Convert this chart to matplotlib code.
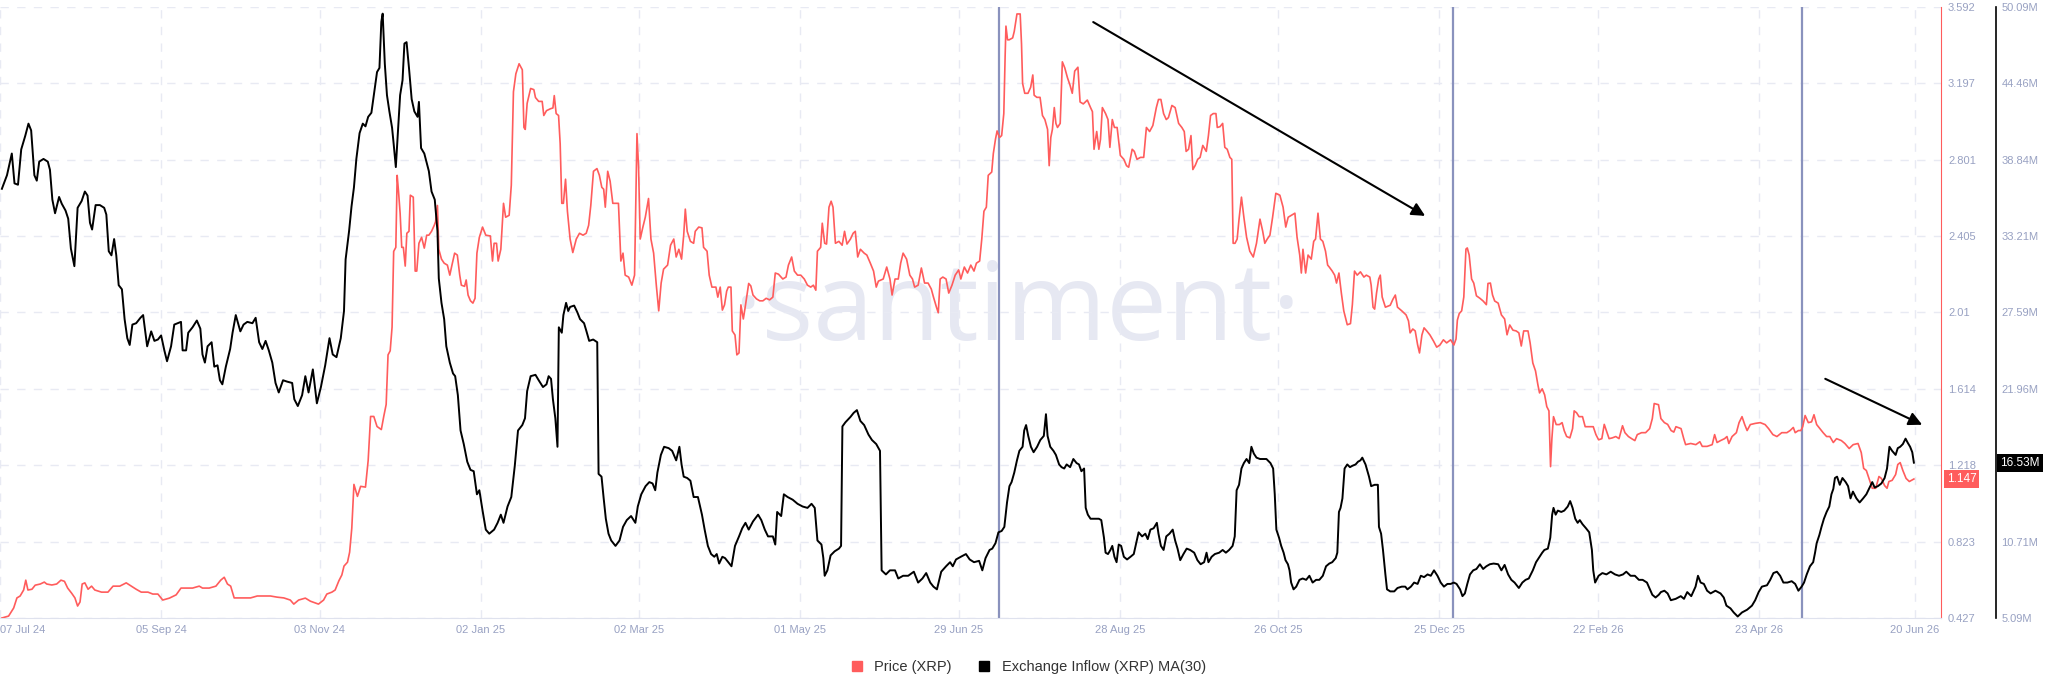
import numpy as np
import matplotlib
matplotlib.use('Agg')
import matplotlib.pyplot as plt
from matplotlib.lines import Line2D

plt.rcParams['font.family'] = ['Liberation Sans', 'DejaVu Sans']

START = np.datetime64('2024-07-07T00:00')

# XRP price (USD), day offset from 07 Jul 24
price_days = [
    0.7, 3.2, 5.1, 6.3, 7.5, 8.8, 9.6, 10.4, 11.9, 13.1, 15.0, 16.5, 17.4, 19.3, 21.1, 22.7, 24.0, 25.2, 26.7, 27.9,
    28.9, 29.8, 30.6, 31.6, 32.8, 34.1, 35.3, 37.8, 40.2, 42.1, 44.6, 47.0, 48.9, 50.7, 52.6, 55.1, 56.9, 58.8, 60.6, 63.1,
    65.6, 67.4, 69.3, 71.7, 74.2, 75.4, 77.9, 80.4, 82.2, 83.5, 84.7, 85.9, 87.2, 88.6, 90.9, 93.3, 95.8, 98.3, 100.7, 103.2,
    105.7, 108.1, 109.4, 111.2, 113.7, 115.6, 118.6, 120.5, 121.7, 123.6, 124.8, 126.2, 127.3, 128.1, 129.4, 130.2, 131.0, 131.8, 133.1, 134.3,
    136.1, 137.1, 138.0, 139.2, 140.4, 142.0, 142.9, 143.8, 144.5, 145.3, 146.0, 146.6, 147.4, 147.9, 148.4, 149.0, 149.6, 150.2, 150.9, 151.5,
    152.3, 152.8, 153.9, 154.6, 155.2, 156.0, 157.0, 158.0, 158.9, 159.7, 160.7, 161.7, 162.2, 162.9, 163.4, 164.4, 165.4, 166.6, 167.5, 168.3,
    169.3, 170.3, 171.2, 171.8, 173.0, 173.6, 174.3, 175.2, 176.1, 176.9, 177.6, 178.5, 179.7, 180.9, 182.6, 183.4, 184.0, 184.9, 185.5, 186.5,
    187.5, 188.3, 189.6, 190.4, 191.2, 192.1, 193.3, 194.5, 195.1, 195.6, 196.3, 197.6, 198.8, 199.4, 200.6, 201.9, 202.5, 203.5, 205.0, 205.9,
    206.4, 207.1, 208.0, 208.6, 209.2, 209.8, 210.6, 211.3, 212.3, 213.3, 214.6, 215.8, 217.1, 218.3, 219.2, 220.0, 221.0, 222.3, 223.2, 224.1,
    224.8, 225.4, 226.3, 227.2, 228.2, 230.3, 231.2, 232.0, 232.8, 234.1, 235.3, 236.3, 237.2, 237.8, 238.4, 239.4, 240.3, 241.5, 242.4, 243.4,
    244.4, 245.3, 246.2, 247.1, 248.6, 249.7, 250.9, 251.8, 252.8, 253.8, 254.6, 255.2, 255.9, 257.1, 258.3, 258.9, 260.2, 261.4, 262.0, 263.3,
    264.1, 265.1, 266.6, 267.3, 268.2, 269.0, 269.8, 270.6, 271.2, 272.2, 272.7, 273.7, 274.4, 275.2, 275.9, 276.8, 277.4, 278.8, 279.6, 280.4,
    281.7, 282.9, 284.1, 285.3, 286.6, 287.8, 288.7, 289.9, 291.5, 292.7, 293.6, 294.8, 295.8, 297.0, 298.2, 299.5, 300.7, 301.9, 302.9, 303.8,
    304.4, 305.6, 306.2, 307.1, 307.8, 308.7, 309.5, 310.2, 311.1, 312.4, 313.6, 314.5, 315.4, 316.7, 317.7, 318.5, 319.4, 320.4, 321.8, 322.8,
    324.1, 325.3, 326.3, 327.1, 328.9, 330.2, 331.4, 332.2, 333.3, 334.5, 335.4, 336.3, 337.6, 338.8, 339.8, 340.6, 341.9, 343.1, 344.3, 345.6,
    346.8, 347.6, 348.7, 349.4, 350.1, 351.1, 352.3, 353.3, 354.5, 355.7, 357.0, 357.8, 359.1, 360.3, 361.5, 362.7, 363.6, 364.8, 365.6, 366.4,
    367.3, 368.0, 369.3, 369.9, 370.7, 371.3, 372.2, 373.0, 373.8, 374.3, 374.6, 375.2, 375.8, 377.1, 377.7, 378.7, 379.9, 380.4, 380.8, 381.6,
    382.8, 383.8, 384.6, 385.1, 386.1, 387.3, 388.2, 389.1, 390.1, 390.7, 391.3, 391.9, 392.6, 393.2, 393.8, 394.8, 395.6, 396.5, 397.5, 398.5,
    399.3, 400.2, 401.4, 402.2, 403.4, 404.9, 406.1, 406.8, 407.4, 408.4, 409.2, 409.8, 410.5, 411.7, 412.6, 413.3, 414.2, 415.0, 416.0, 417.2,
    418.5, 419.5, 420.3, 421.6, 422.4, 423.4, 424.7, 425.9, 426.9, 428.1, 429.3, 430.6, 431.4, 432.3, 433.3, 434.3, 435.1, 436.4, 437.6, 438.9,
    440.1, 441.0, 441.7, 442.6, 443.5, 444.2, 445.1, 446.0, 446.9, 447.9, 449.2, 450.0, 450.8, 451.8, 452.8, 453.3, 454.3, 455.3, 456.1, 457.0,
    458.0, 458.7, 459.2, 459.9, 460.7, 461.4, 462.3, 463.2, 464.2, 465.4, 466.7, 467.9, 469.2, 470.2, 471.0, 471.9, 472.9, 473.9, 475.1, 476.6,
    477.8, 478.8, 479.7, 480.9, 482.2, 483.0, 484.0, 484.6, 485.2, 486.2, 487.1, 488.3, 489.2, 489.9, 490.8, 491.7, 492.6, 493.6, 494.4, 495.0,
    496.1, 497.0, 497.7, 498.6, 499.5, 500.4, 501.7, 502.9, 503.6, 504.4, 505.4, 506.6, 507.9, 508.8, 510.1, 510.6, 511.3, 511.9, 512.6, 513.4,
    514.0, 514.7, 515.9, 517.7, 518.7, 519.6, 520.4, 522.0, 523.6, 524.5, 525.1, 526.1, 527.0, 527.9, 528.6, 529.5, 530.3, 531.3, 532.5, 533.8,
    535.0, 536.2, 537.5, 538.7, 540.2, 541.4, 542.2, 542.7, 543.4, 544.3, 545.1, 545.9, 546.4, 547.1, 548.0, 548.8, 549.8, 551.1, 552.3, 553.5,
    554.1, 555.0, 555.8, 556.6, 557.9, 559.1, 560.3, 561.2, 562.2, 563.4, 564.6, 565.6, 566.5, 567.4, 569.0, 569.8, 570.8, 571.8, 572.7, 573.3,
    574.3, 575.2, 576.0, 576.8, 577.4, 577.9, 578.5, 579.5, 580.7, 581.7, 582.5, 583.4, 584.6, 585.6, 586.2, 587.1, 588.0, 589.3, 590.3, 591.8,
    593.3, 594.3, 595.3, 596.5, 597.4, 598.2, 599.2, 600.4, 601.7, 602.9, 604.2, 605.1, 606.4, 607.6, 608.8, 609.7, 611.3, 612.8, 614.3, 615.3,
    616.0, 617.6, 618.5, 619.8, 621.0, 622.3, 623.3, 624.1, 626.0, 627.0, 627.7, 629.6, 631.5, 633.0, 633.9, 635.7, 637.6, 638.5, 639.4, 640.7,
    642.2, 643.1, 643.8, 645.0, 646.6, 647.6, 648.7, 649.7, 650.6, 651.8, 653.6, 655.5, 657.3, 658.6, 660.2, 661.7, 663.5, 665.4, 666.6, 667.8,
    668.5, 669.7, 670.6, 671.3, 672.2, 673.4, 674.6, 675.5, 676.5, 677.7, 678.9, 680.2, 681.4, 682.7, 683.9, 685.7, 687.0, 688.6, 690.1, 691.9,
    693.1, 694.0, 695.0, 696.2, 697.2, 698.5, 699.7, 700.6, 701.8, 702.7, 703.4, 704.6, 705.9, 706.7, 707.6, 708.6, 709.8, 711.0, 712.7,
]
price_vals = [
    0.427, 0.437, 0.479, 0.531, 0.541, 0.572, 0.623, 0.572, 0.576, 0.597, 0.603, 0.613, 0.603, 0.598, 0.603, 0.623, 0.617, 0.582, 0.555, 0.531,
    0.489, 0.510, 0.603, 0.609, 0.576, 0.592, 0.572, 0.561, 0.561, 0.592, 0.592, 0.609, 0.592, 0.576, 0.561, 0.561, 0.551, 0.551, 0.520, 0.530,
    0.547, 0.582, 0.582, 0.582, 0.592, 0.582, 0.582, 0.592, 0.623, 0.638, 0.603, 0.592, 0.531, 0.531, 0.531, 0.531, 0.541, 0.541, 0.541, 0.535,
    0.531, 0.520, 0.499, 0.520, 0.530, 0.514, 0.499, 0.520, 0.551, 0.561, 0.572, 0.620, 0.650, 0.696, 0.716, 0.768, 0.892, 1.119, 1.057, 1.109,
    1.105, 1.243, 1.471, 1.471, 1.419, 1.403, 1.471, 1.533, 1.790, 1.811, 1.934, 2.326, 2.347, 2.720, 2.637, 2.524, 2.347, 2.347, 2.250, 2.420,
    2.430, 2.617, 2.607, 2.224, 2.224, 2.368, 2.399, 2.343, 2.410, 2.410, 2.430, 2.461, 2.480, 2.564, 2.337, 2.286, 2.265, 2.255, 2.203, 2.255,
    2.317, 2.307, 2.203, 2.151, 2.145, 2.178, 2.100, 2.070, 2.058, 2.083, 2.317, 2.399, 2.452, 2.410, 2.406, 2.276, 2.368, 2.368, 2.276, 2.337,
    2.575, 2.503, 2.513, 2.669, 3.153, 3.246, 3.298, 3.267, 2.968, 2.958, 3.093, 3.170, 3.164, 3.123, 3.103, 3.103, 3.030, 3.055, 3.065, 3.069,
    3.133, 3.040, 3.030, 2.884, 2.575, 2.575, 2.700, 2.534, 2.390, 2.320, 2.390, 2.420, 2.410, 2.420, 2.461, 2.564, 2.741, 2.755, 2.720, 2.658,
    2.648, 2.555, 2.741, 2.690, 2.575, 2.575, 2.276, 2.317, 2.203, 2.193, 2.151, 2.203, 2.936, 2.758, 2.390, 2.452, 2.503, 2.600, 2.390, 2.317,
    2.151, 2.018, 2.162, 2.234, 2.255, 2.358, 2.390, 2.297, 2.337, 2.286, 2.410, 2.545, 2.430, 2.378, 2.368, 2.430, 2.452, 2.448, 2.347, 2.327,
    2.203, 2.141, 2.141, 2.089, 2.141, 2.022, 2.049, 2.120, 2.141, 2.141, 1.914, 1.893, 1.790, 1.800, 2.049, 1.976, 2.028, 2.160, 2.147, 2.100,
    2.080, 2.070, 2.070, 2.083, 2.075, 2.089, 2.214, 2.208, 2.183, 2.193, 2.255, 2.297, 2.224, 2.203, 2.203, 2.183, 2.151, 2.141, 2.151, 2.125,
    2.327, 2.347, 2.472, 2.368, 2.364, 2.555, 2.586, 2.555, 2.368, 2.378, 2.358, 2.430, 2.364, 2.390, 2.420, 2.430, 2.297, 2.337, 2.317, 2.307,
    2.265, 2.224, 2.141, 2.172, 2.183, 2.245, 2.183, 2.100, 2.183, 2.183, 2.265, 2.317, 2.286, 2.203, 2.183, 2.141, 2.151, 2.240, 2.162, 2.162,
    2.131, 2.090, 2.038, 2.008, 2.183, 2.193, 2.183, 2.110, 2.151, 2.203, 2.230, 2.183, 2.245, 2.214, 2.255, 2.224, 2.265, 2.276, 2.390, 2.534,
    2.555, 2.720, 2.737, 2.833, 2.907, 2.950, 2.916, 2.926, 3.040, 3.339, 3.493, 3.422, 3.422, 3.432, 3.466, 3.556, 3.556, 3.400, 3.196, 3.145,
    3.145, 3.176, 3.240, 3.135, 3.124, 3.124, 3.030, 3.009, 2.958, 2.770, 2.916, 2.958, 3.071, 2.989, 2.968, 2.989, 3.308, 3.277, 3.226, 3.185,
    3.145, 3.260, 3.280, 3.100, 3.090, 3.110, 3.071, 3.050, 2.855, 2.947, 2.855, 2.906, 3.071, 3.040, 3.009, 2.865, 3.009, 2.968, 2.968, 2.823,
    2.803, 2.770, 2.762, 2.855, 2.844, 2.803, 2.813, 2.813, 2.968, 2.947, 2.978, 3.071, 3.113, 3.113, 3.040, 3.009, 3.019, 3.082, 3.071, 2.989,
    2.968, 2.947, 2.844, 2.855, 2.926, 2.750, 2.772, 2.803, 2.813, 2.875, 2.844, 2.926, 3.030, 3.040, 3.040, 2.968, 2.972, 2.989, 2.865, 2.855,
    2.813, 2.803, 2.368, 2.368, 2.390, 2.493, 2.607, 2.503, 2.400, 2.327, 2.297, 2.368, 2.493, 2.431, 2.368, 2.390, 2.410, 2.503, 2.627, 2.617,
    2.555, 2.452, 2.503, 2.513, 2.524, 2.400, 2.307, 2.214, 2.337, 2.214, 2.307, 2.286, 2.378, 2.390, 2.524, 2.390, 2.378, 2.327, 2.255, 2.245,
    2.224, 2.203, 2.162, 2.214, 2.110, 2.018, 1.946, 1.952, 2.050, 2.224, 2.203, 2.220, 2.193, 2.203, 2.193, 2.151, 2.037, 2.027, 2.110, 2.183,
    2.203, 2.090, 2.037, 2.047, 2.078, 2.100, 2.037, 2.018, 1.997, 1.966, 1.904, 1.924, 1.914, 1.842, 1.800, 1.893, 1.930, 1.914, 1.893, 1.862,
    1.830, 1.841, 1.868, 1.852, 1.868, 1.841, 1.872, 1.970, 2.004, 2.018, 2.090, 2.338, 2.344, 2.307, 2.183, 2.162, 2.096, 2.083, 2.069, 2.050,
    2.160, 2.162, 2.100, 2.069, 2.058, 1.997, 1.976, 1.894, 1.945, 1.918, 1.914, 1.904, 1.836, 1.914, 1.914, 1.852, 1.748, 1.707, 1.634, 1.593,
    1.614, 1.583, 1.522, 1.500, 1.211, 1.356, 1.470, 1.429, 1.429, 1.439, 1.397, 1.367, 1.360, 1.408, 1.500, 1.490, 1.470, 1.470, 1.418, 1.418,
    1.418, 1.377, 1.350, 1.356, 1.430, 1.397, 1.356, 1.360, 1.367, 1.356, 1.423, 1.387, 1.367, 1.356, 1.346, 1.377, 1.387, 1.387, 1.408, 1.460,
    1.538, 1.532, 1.460, 1.439, 1.430, 1.398, 1.390, 1.418, 1.408, 1.356, 1.325, 1.331, 1.325, 1.340, 1.316, 1.316, 1.325, 1.377, 1.336, 1.346,
    1.356, 1.367, 1.331, 1.367, 1.387, 1.439, 1.470, 1.429, 1.398, 1.429, 1.435, 1.439, 1.429, 1.408, 1.377, 1.367, 1.387, 1.387, 1.398, 1.414,
    1.387, 1.398, 1.398, 1.418, 1.476, 1.439, 1.443, 1.480, 1.429, 1.408, 1.387, 1.367, 1.367, 1.336, 1.356, 1.346, 1.331, 1.305, 1.325, 1.331,
    1.284, 1.202, 1.191, 1.140, 1.099, 1.099, 1.160, 1.150, 1.113, 1.099, 1.134, 1.140, 1.170, 1.222, 1.232, 1.191, 1.150, 1.134, 1.147,
]

# Exchange inflow MA(30), millions of XRP
inflow_days = [
    0.7, 2.6, 4.4, 5.4, 6.7, 7.9, 9.4, 10.6, 11.6, 12.8, 13.7, 14.6, 16.2, 17.8, 18.6, 19.5, 20.5, 22.0, 23.0, 24.4,
    25.4, 26.4, 27.7, 28.9, 30.4, 31.6, 32.6, 33.5, 34.3, 35.6, 37.2, 38.8, 39.6, 40.5, 41.5, 42.5, 43.3, 44.2, 45.4, 46.4,
    47.4, 48.3, 49.3, 50.7, 52.3, 53.3, 54.8, 56.3, 57.5, 58.8, 60.0, 61.2, 62.2, 63.7, 64.9, 66.2, 67.4, 68.0, 69.3, 70.1,
    71.7, 73.3, 74.6, 75.4, 76.3, 77.3, 78.8, 79.8, 81.0, 81.9, 82.8, 84.1, 85.7, 86.6, 87.8, 89.5, 90.7, 92.1, 94.0, 95.2,
    96.5, 97.7, 98.9, 100.1, 101.4, 102.6, 103.8, 105.4, 106.9, 108.8, 109.6, 110.9, 112.5, 113.7, 114.9, 116.5, 118.0, 119.5, 121.1, 122.7,
    123.9, 125.3, 126.9, 128.1, 128.7, 130.0, 130.9, 131.8, 132.7, 133.9, 135.1, 136.1, 137.1, 138.3, 139.2, 140.4, 141.3, 142.0, 142.5, 143.3,
    144.1, 145.0, 146.0, 146.6, 147.4, 148.2, 149.0, 149.9, 150.6, 151.4, 152.3, 153.3, 154.3, 155.5, 156.0, 156.8, 158.0, 159.7, 160.7, 161.9,
    162.9, 163.4, 164.4, 165.4, 166.2, 167.5, 168.7, 169.5, 170.5, 171.5, 172.7, 174.0, 175.2, 176.4, 177.6, 178.5, 179.7, 180.9, 182.2, 184.0,
    185.3, 186.5, 187.5, 189.0, 190.4, 191.7, 192.9, 194.5, 195.5, 196.3, 197.6, 199.4, 200.6, 202.2, 203.5, 204.3, 205.2, 205.9, 206.8, 207.6,
    208.1, 209.2, 209.8, 210.8, 211.6, 212.3, 213.8, 215.0, 216.0, 217.5, 218.4, 219.4, 220.9, 222.4, 222.9, 224.0, 224.8, 225.6, 226.6, 227.6,
    229.2, 230.7, 232.0, 233.4, 235.0, 236.6, 237.5, 238.8, 240.4, 241.8, 243.0, 244.0, 244.8, 246.1, 247.3, 249.0, 250.3, 251.8, 253.0, 253.8,
    254.6, 255.9, 257.1, 258.3, 259.9, 261.4, 262.4, 263.6, 264.8, 266.0, 266.9, 267.8, 269.0, 270.0, 271.2, 272.4, 273.7, 275.2, 276.4, 277.6,
    278.8, 280.4, 282.3, 283.5, 284.8, 286.0, 287.8, 288.7, 289.4, 290.9, 291.9, 293.3, 295.2, 297.0, 298.9, 300.7, 302.2, 303.4, 304.4, 305.9,
    306.6, 307.1, 308.1, 309.3, 310.8, 312.4, 313.2, 313.7, 314.8, 316.7, 317.9, 319.1, 320.4, 321.8, 323.4, 324.7, 326.3, 327.7, 328.3, 329.9,
    331.4, 333.3, 334.5, 336.3, 338.2, 340.3, 341.9, 343.5, 344.9, 346.4, 347.6, 348.9, 350.5, 352.3, 353.8, 354.8, 356.0, 357.8, 359.7, 361.1,
    362.7, 364.6, 365.8, 367.0, 368.5, 369.5, 370.7, 371.8, 373.0, 374.0, 375.0, 375.9, 376.7, 377.7, 378.7, 379.6, 380.8, 381.4, 382.1, 382.9,
    383.9, 384.9, 386.2, 387.4, 388.7, 389.5, 390.1, 391.1, 392.3, 393.2, 394.4, 395.3, 396.3, 397.2, 398.5, 399.7, 400.9, 401.8, 402.7, 403.7,
    404.3, 405.1, 406.1, 407.6, 409.2, 410.1, 411.1, 411.7, 412.6, 413.5, 414.2, 415.0, 415.8, 416.6, 417.5, 418.5, 419.7, 421.0, 422.2, 423.2,
    424.0, 425.3, 426.5, 427.4, 428.4, 429.6, 430.8, 431.4, 432.3, 433.3, 434.3, 435.5, 436.7, 437.6, 438.5, 439.5, 440.7, 441.9, 443.2, 444.7,
    445.9, 447.1, 448.4, 449.3, 450.0, 451.2, 452.4, 454.0, 455.3, 456.5, 457.7, 459.0, 459.8, 460.5, 461.4, 462.3, 463.2, 464.2, 465.2, 466.0,
    466.9, 467.9, 469.2, 470.4, 471.6, 473.1, 474.1, 474.7, 475.3, 476.3, 477.1, 478.0, 478.7, 479.6, 480.2, 480.8, 481.7, 482.7, 483.9, 485.1,
    486.4, 487.6, 488.8, 490.1, 491.3, 492.6, 493.8, 495.0, 496.1, 497.4, 498.0, 498.6, 499.2, 499.9, 500.7, 501.7, 502.7, 503.6, 504.8, 505.7,
    506.6, 507.3, 508.5, 509.8, 510.6, 511.9, 513.1, 513.5, 514.3, 515.0, 515.9, 516.5, 517.7, 519.2, 520.4, 522.0, 523.3, 524.1, 525.4, 526.6,
    527.9, 529.1, 530.3, 531.6, 532.8, 534.0, 535.3, 536.5, 537.7, 539.0, 540.2, 541.4, 542.4, 543.7, 544.6, 545.5, 546.4, 547.4, 548.6, 549.8,
    551.1, 552.3, 553.5, 554.8, 556.2, 557.9, 559.1, 560.3, 561.6, 562.8, 564.0, 565.6, 566.9, 568.1, 569.3, 570.8, 572.0, 573.3, 574.3, 575.1,
    576.4, 577.3, 578.0, 578.5, 579.3, 580.1, 581.4, 582.5, 583.8, 584.7, 585.6, 586.6, 587.5, 588.3, 589.3, 590.6, 591.8, 592.8, 593.3, 594.0,
    595.3, 596.7, 598.2, 599.8, 601.4, 602.9, 604.4, 605.6, 607.2, 608.8, 610.3, 611.7, 613.3, 614.2, 615.3, 616.5, 617.7, 618.5, 619.8, 621.0,
    622.2, 624.0, 625.9, 627.1, 628.3, 629.8, 631.4, 632.3, 633.3, 634.5, 635.7, 637.0, 638.8, 640.7, 641.9, 642.9, 644.4, 645.6, 647.1, 648.7,
    650.6, 652.4, 653.6, 654.9, 656.1, 658.0, 659.2, 660.4, 661.7, 662.9, 664.1, 665.6, 667.2, 668.5, 669.7, 670.9, 671.8, 672.8, 674.0, 675.2,
    675.9, 676.5, 677.5, 678.3, 679.2, 680.2, 681.2, 682.0, 682.7, 683.3, 684.1, 685.1, 686.1, 687.3, 688.2, 689.1, 690.0, 691.3, 692.5, 693.8,
    695.0, 696.2, 697.2, 698.1, 699.3, 700.6, 701.8, 702.7, 703.6, 704.6, 705.9, 706.7, 707.6, 708.6, 709.6, 710.4, 711.3, 712.1, 712.7,
]
inflow_vals = [
    36.7, 37.7, 39.3, 37.1, 37.0, 39.6, 40.6, 41.5, 41.0, 37.7, 37.3, 38.7, 38.9, 38.7, 38.1, 35.9, 34.9, 36.1, 35.6, 35.1,
    34.5, 32.3, 31.0, 35.3, 35.8, 36.5, 36.2, 34.2, 33.7, 35.5, 35.5, 35.3, 34.8, 32.1, 31.8, 33.0, 31.8, 29.6, 29.3, 27.1,
    25.7, 25.2, 26.7, 26.8, 27.2, 27.4, 25.1, 26.2, 25.5, 25.6, 25.9, 24.8, 24.0, 25.1, 26.7, 26.8, 26.9, 24.8, 24.8, 26.1,
    26.5, 27.0, 26.4, 24.5, 23.9, 25.1, 25.4, 23.6, 23.7, 22.6, 22.3, 23.6, 24.9, 26.1, 27.4, 26.2, 26.7, 26.9, 26.8, 27.2,
    25.4, 24.9, 25.5, 24.8, 23.9, 22.4, 21.7, 22.6, 22.5, 22.4, 21.2, 20.7, 21.5, 22.9, 21.7, 23.4, 20.9, 22.1, 23.7, 25.7,
    24.5, 24.3, 25.7, 27.7, 31.5, 33.6, 35.4, 36.8, 38.9, 40.8, 41.5, 41.3, 42.0, 42.3, 43.6, 45.3, 45.6, 49.0, 49.6, 45.9,
    43.6, 42.4, 41.2, 40.0, 38.3, 40.9, 43.6, 44.7, 47.4, 47.5, 45.6, 43.3, 42.4, 42.0, 43.1, 39.7, 39.3, 38.0, 36.5, 35.9,
    33.6, 30.1, 28.3, 27.1, 25.1, 23.9, 23.1, 22.9, 21.5, 18.9, 17.9, 16.6, 16.0, 15.9, 14.2, 14.5, 13.0, 11.6, 11.3, 11.6,
    12.1, 12.7, 12.1, 13.3, 14.0, 16.3, 18.9, 19.3, 19.8, 21.8, 22.9, 23.0, 22.6, 22.1, 22.3, 22.9, 22.7, 21.2, 19.8, 17.7,
    26.5, 26.1, 27.4, 28.3, 27.7, 28.0, 28.1, 27.6, 27.1, 26.8, 26.2, 25.5, 25.6, 25.4, 15.7, 15.5, 13.9, 12.4, 11.3, 10.8,
    10.4, 10.8, 11.8, 12.3, 12.6, 12.1, 13.3, 14.2, 14.8, 15.1, 15.0, 14.5, 15.8, 17.1, 17.7, 17.6, 17.4, 16.7, 17.7, 16.4,
    15.5, 15.4, 15.2, 14.0, 14.0, 12.7, 11.6, 10.4, 9.8, 9.6, 9.8, 9.1, 9.6, 9.5, 9.2, 8.9, 10.4, 11.1, 11.7, 12.1,
    11.6, 12.2, 12.7, 12.3, 11.6, 11.1, 11.1, 10.5, 12.9, 12.6, 14.2, 14.0, 13.8, 13.5, 13.3, 13.2, 13.5, 13.2, 10.8, 10.5,
    9.5, 8.2, 8.6, 9.7, 10.0, 10.2, 10.4, 19.2, 19.5, 19.9, 20.2, 20.4, 19.6, 19.3, 18.6, 18.2, 17.9, 17.4, 8.6, 8.3,
    8.6, 8.6, 8.0, 8.2, 8.2, 8.5, 7.7, 8.0, 8.4, 7.7, 7.4, 7.2, 8.5, 8.9, 9.2, 8.9, 9.4, 9.6, 9.8, 9.4,
    9.2, 9.3, 8.6, 9.5, 10.1, 10.2, 10.6, 11.4, 11.5, 11.8, 13.6, 14.8, 15.1, 15.8, 16.7, 17.4, 17.7, 18.9, 19.3, 18.5,
    17.7, 17.3, 17.7, 18.2, 18.5, 20.1, 18.5, 17.7, 17.4, 17.1, 16.4, 16.2, 16.1, 16.4, 16.2, 16.8, 16.5, 16.4, 15.9, 16.1,
    13.2, 12.7, 12.4, 12.4, 12.4, 12.3, 11.0, 9.9, 9.8, 10.1, 10.4, 9.6, 9.2, 10.5, 10.4, 9.6, 9.4, 9.6, 9.8, 10.7,
    11.4, 11.1, 11.3, 10.9, 11.6, 11.7, 12.1, 11.3, 10.4, 10.1, 11.1, 11.3, 11.6, 10.8, 10.2, 9.35, 9.8, 10.2, 10.1, 9.9,
    9.35, 9.05, 9.2, 9.9, 9.2, 9.6, 9.8, 9.9, 10.1, 9.9, 10.1, 10.4, 11.1, 14.5, 14.9, 16.1, 16.5, 16.8, 16.5, 17.7,
    17.2, 16.9, 16.8, 16.8, 16.8, 16.5, 16.1, 14.2, 11.6, 11.0, 10.4, 9.9, 9.35, 9.05, 8.6, 7.7, 7.2, 7.4, 7.9, 8.0,
    7.9, 8.2, 7.7, 7.9, 7.9, 8.2, 8.9, 9.1, 9.2, 9.5, 9.9, 12.9, 13.2, 13.9, 16.1, 16.4, 16.2, 16.3, 16.4, 16.6,
    16.7, 16.9, 16.4, 15.5, 14.8, 14.9, 14.9, 11.8, 11.3, 10.1, 8.3, 7.2, 7.05, 7.05, 7.3, 7.4, 7.4, 7.2, 7.4, 7.7,
    7.6, 8.2, 8.1, 8.3, 8.2, 8.6, 8.2, 7.7, 7.4, 7.6, 7.6, 7.7, 7.6, 7.2, 6.7, 6.9, 7.6, 8.3, 8.6, 8.7,
    9.05, 8.7, 8.9, 9.05, 9.1, 9.05, 8.6, 9.0, 8.3, 7.9, 7.7, 7.3, 7.7, 7.9, 8.0, 8.6, 9.2, 9.6, 9.9, 10.1,
    10.2, 11.0, 12.7, 13.2, 12.7, 13.0, 12.9, 13.0, 13.3, 13.7, 13.2, 12.4, 12.1, 12.3, 12.0, 11.7, 11.4, 10.1, 8.6, 7.7,
    8.2, 8.4, 8.3, 8.5, 8.3, 8.2, 8.3, 8.5, 8.2, 8.2, 7.9, 7.9, 7.7, 7.3, 6.8, 6.6, 6.8, 7.0, 7.1, 6.9,
    6.4, 6.5, 6.7, 6.5, 7.0, 6.7, 7.4, 8.2, 7.7, 7.6, 7.1, 6.9, 7.1, 6.9, 6.6, 6.0, 5.8, 5.5, 5.2, 5.5,
    5.7, 6.0, 6.4, 7.0, 7.4, 7.5, 7.9, 8.4, 8.5, 8.2, 7.7, 7.7, 7.8, 7.6, 7.1, 7.4, 7.7, 8.3, 8.9, 9.2,
    9.9, 10.6, 11.2, 11.8, 12.4, 12.9, 13.3, 14.2, 14.6, 15.4, 15.5, 14.9, 15.4, 15.1, 14.8, 13.9, 14.4, 13.9, 13.6, 13.9,
    14.2, 14.7, 15.1, 14.7, 14.8, 15.0, 15.4, 16.1, 17.7, 17.4, 17.1, 17.6, 17.7, 17.9, 18.3, 18.0, 17.7, 17.3, 16.53,
]

tick_dates = ['2024-07-07', '2024-09-05', '2024-11-03', '2025-01-02', '2025-03-02', '2025-05-01', '2025-06-29',
              '2025-08-28', '2025-10-26', '2025-12-25', '2026-02-22', '2026-04-23', '2026-06-20']
tick_labels = ['07 Jul 24', '05 Sep 24', '03 Nov 24', '02 Jan 25', '02 Mar 25', '01 May 25', '29 Jun 25',
               '28 Aug 25', '26 Oct 25', '25 Dec 25', '22 Feb 26', '23 Apr 26', '20 Jun 26']
price_ticks = [0.427, 0.823, 1.218, 1.614, 2.01, 2.405, 2.801, 3.197, 3.592]
price_tick_labels = ['0.427', '0.823', '1.218', '1.614', '2.01', '2.405', '2.801', '3.197', '3.592']
inflow_ticks = [5.09, 10.71, 16.34, 21.96, 27.59, 33.21, 38.84, 44.46, 50.09]
inflow_tick_labels = ['5.09M', '10.71M', '', '21.96M', '27.59M', '33.21M', '38.84M', '44.46M', '50.09M']
marker_dates = ['2025-07-14', '2025-12-30', '2026-05-09']

PRICE_COLOR = '#ff5c5c'
LABEL_COLOR = '#98a1c2'
GRID_COLOR = '#e8eaf3'


def to_dates(days):
    return START + (np.array(days) * 24 * 60).astype('timedelta64[m]')


fig = plt.figure(figsize=(20.48, 6.93), dpi=100)
ax = fig.add_axes([0, 75 / 693, 1941 / 2048, 611 / 693])
ax2 = ax.twinx()

ax.text(0.524, 0.455, '\u00b7santiment\u00b7', transform=ax.transAxes, ha='center', va='baseline',
        fontsize=78, color='#e6e8f2', family=['Open Sans', 'DejaVu Sans'], zorder=0)

ax.plot(to_dates(price_days), price_vals, color=PRICE_COLOR, lw=1.2, zorder=3)
ax2.plot(to_dates(inflow_days), inflow_vals, color='black', lw=1.4, zorder=3)

for d in marker_dates:
    ax.axvline(np.datetime64(d), color='#8a92bd', lw=1.6, zorder=2)

ax.set_xlim(START, START + np.timedelta64(int(722.8 * 24 * 60), 'm'))
ax.set_ylim(price_ticks[0], price_ticks[-1])
ax2.set_ylim(inflow_ticks[0], inflow_ticks[-1])

ax.set_xticks(np.array(tick_dates, dtype='datetime64[D]'))
ax.set_xticklabels(tick_labels)
ax.get_xticklabels()[0].set_horizontalalignment('left')
ax.yaxis.tick_right()
ax.set_yticks(price_ticks)
ax.set_yticklabels(price_tick_labels)
ax2.set_yticks(inflow_ticks)
ax2.set_yticklabels(inflow_tick_labels)

ax.tick_params(axis='x', length=0, pad=5, labelsize=8, labelcolor=LABEL_COLOR)
ax.tick_params(axis='y', length=0, pad=5, labelsize=8, labelcolor=LABEL_COLOR)
ax2.tick_params(axis='y', length=0, pad=4, labelsize=8, labelcolor=LABEL_COLOR)

ax.grid(True, color=GRID_COLOR, linestyle=(0, (6, 6)), lw=1)
ax.set_axisbelow(True)

for s in ['top', 'left']:
    ax.spines[s].set_visible(False)
ax.spines['right'].set_color(PRICE_COLOR)
ax.spines['bottom'].set_color('#dfe2ee')
for s in ['top', 'left', 'bottom']:
    ax2.spines[s].set_visible(False)
ax2.spines['right'].set_position(('axes', 1996 / 1941))
ax2.spines['right'].set_color('black')
ax2.spines['right'].set_linewidth(1.2)

# trend arrows
arrow1 = ((407.1, 3.514), (530.7, 2.510))
arrow2 = ((679.7, 1.666), (715.8, 1.428))
for (d0, p0), (d1, p1) in [arrow1, arrow2]:
    ax.annotate('', xy=(to_dates([d1])[0], p1), xytext=(to_dates([d0])[0], p0),
                arrowprops=dict(arrowstyle='-|>,head_length=0.8,head_width=0.4', color='black', lw=1.5,
                                shrinkA=0, shrinkB=0), zorder=5)

# last value badges
ax.annotate(f'{price_vals[-1]:.3f}', xy=(1, price_vals[-1]), xycoords=('axes fraction', 'data'),
            xytext=(4, 0), textcoords='offset points', ha='left', va='center', fontsize=8.5, color='white',
            bbox=dict(boxstyle='square,pad=0.25', fc=PRICE_COLOR, ec='none'), annotation_clip=False)
ax2.annotate(f'{inflow_vals[-1]:.2f}M', xy=(1996 / 1941, inflow_vals[-1]), xycoords=('axes fraction', 'data'),
             xytext=(3, 0), textcoords='offset points', ha='left', va='center', fontsize=8.5, color='white',
             bbox=dict(boxstyle='square,pad=0.25', fc='black', ec='none'), annotation_clip=False)

handles = [Line2D([], [], marker='s', ls='none', color=PRICE_COLOR, markersize=7),
           Line2D([], [], marker='s', ls='none', color='black', markersize=7)]
fig.legend(handles, ['Price (XRP)', 'Exchange Inflow (XRP) MA(30)'], loc='center',
           bbox_to_anchor=(0.5, 1 - 667 / 693), ncol=2, frameon=False, fontsize=10.5,
           handletextpad=0.2, columnspacing=1.2, labelcolor='#333333')

fig.savefig('out.png', dpi=100)
